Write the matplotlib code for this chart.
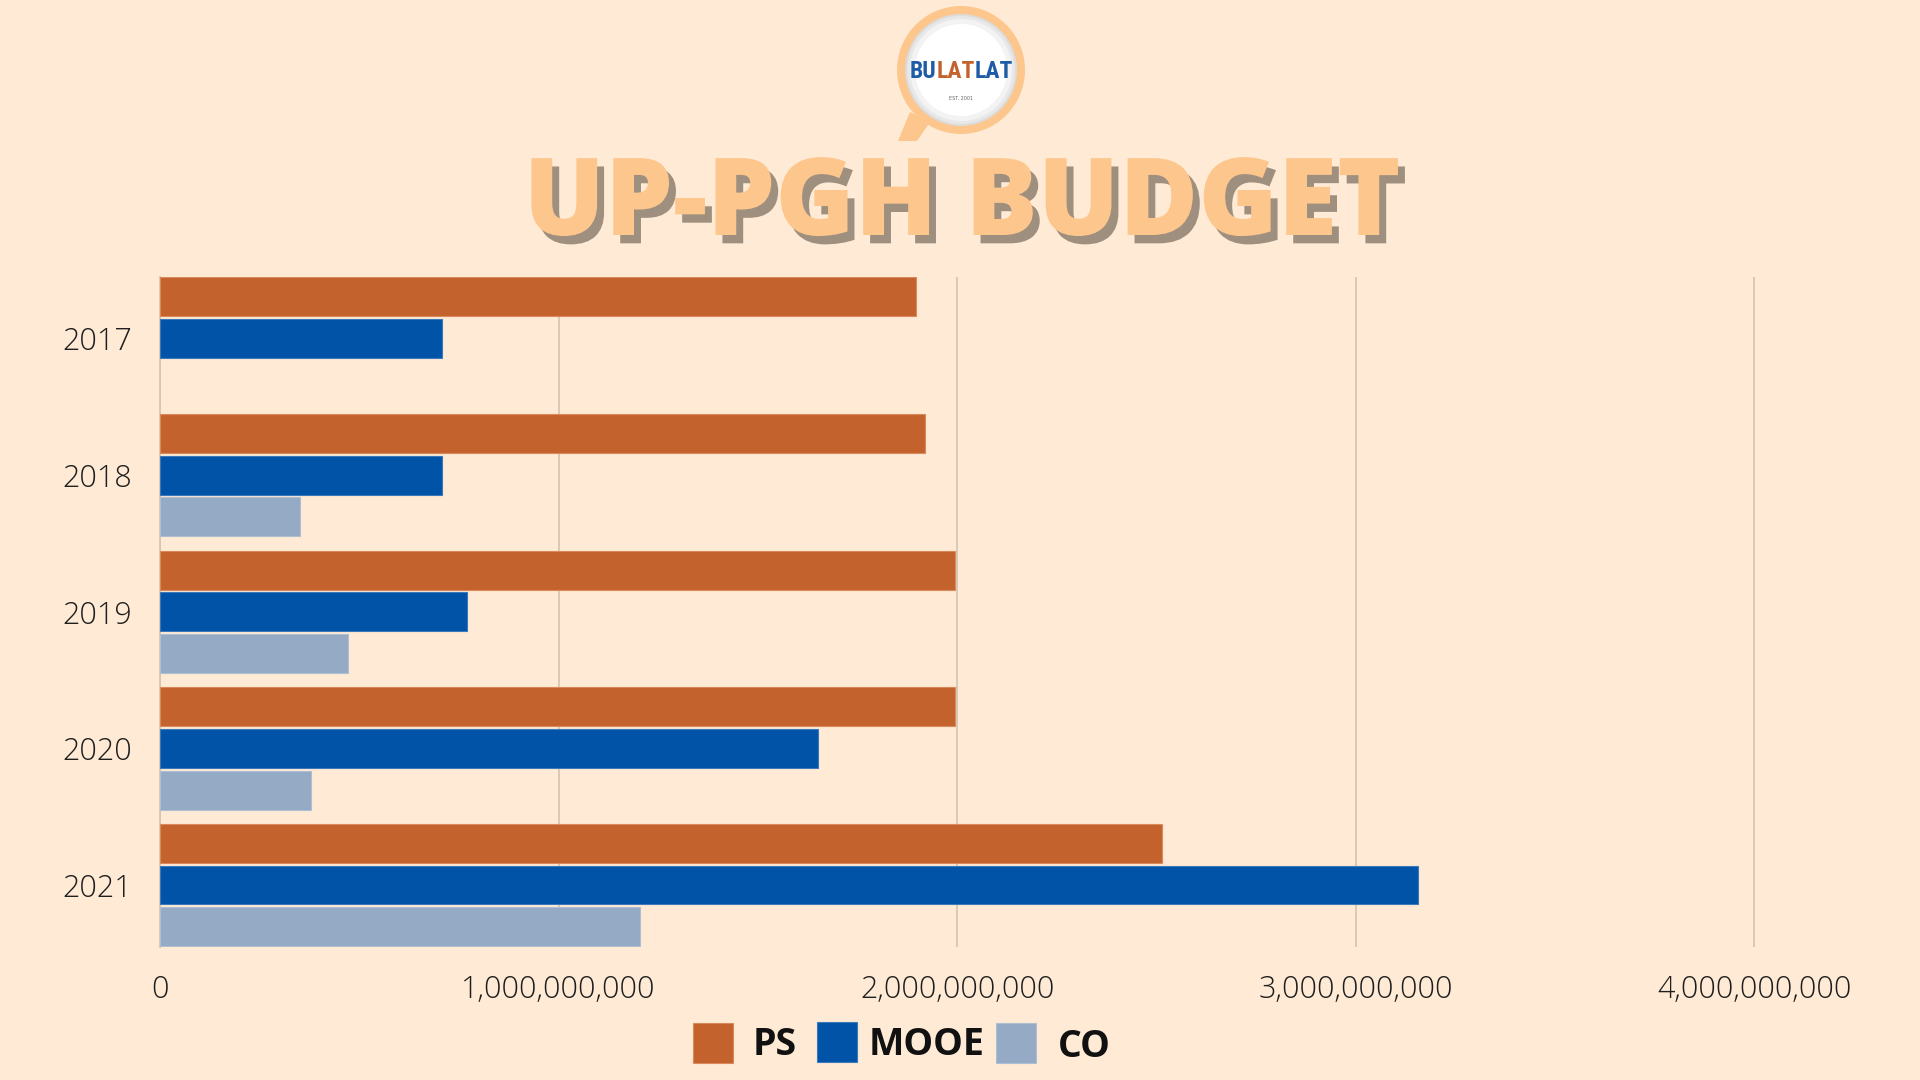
import matplotlib
matplotlib.use("Agg")
import matplotlib.pyplot as plt
import matplotlib.patheffects as pe
import numpy as np
from matplotlib.patches import Circle, Polygon, Rectangle
from matplotlib import font_manager

# ---------------- data ----------------
years = ["2017", "2018", "2019", "2020", "2021"]
series_names = ["PS", "MOOE", "CO"]
ps_values = [1.896e9, 1.920e9, 1.994e9, 1.994e9, 2.514e9]
mooe_values = [0.708e9, 0.708e9, 0.771e9, 1.651e9, 3.157e9]
co_values = [0.0, 0.350e9, 0.471e9, 0.378e9, 1.204e9]
x_ticks = [0, 1e9, 2e9, 3e9, 4e9]
x_tick_labels = ["0", "1,000,000,000", "2,000,000,000", "3,000,000,000", "4,000,000,000"]
title = "UP-PGH BUDGET"

# ---------------- style ----------------
BG = "#FFEBD5"
COLORS = ["#C4622D", "#0053A6", "#94AAC5"]
EDGES = ["#D9895C", "#3C78BC", "#AEBFD3"]
GRID = "#D6C6B5"
TITLE_C = "#FDC68C"
SHADOW_C = "#9E8F7E"

available = {f.name for f in font_manager.fontManager.ttflist}
narrow = None
for cand in ["Liberation Sans Narrow", "DejaVu Sans Condensed", "Roboto Condensed", "Open Sans Condensed"]:
    if cand in available:
        narrow = cand
        break

fig = plt.figure(figsize=(19.2, 10.8), dpi=100, facecolor=BG)

# ---------------- chart ----------------
ax = fig.add_axes([160 / 1920, 1 - 946.5 / 1080, (1834 - 160) / 1920, (946.5 - 277) / 1080])
ax.set_facecolor(BG)
y = np.arange(len(years))
pitch = 0.305
h = 0.285
for i, vals in enumerate([ps_values, mooe_values, co_values]):
    lws = [0.8 if v > 0 else 0 for v in vals]
    ax.barh(y + (i - 1) * pitch, vals, height=h, color=COLORS[i],
            edgecolor=EDGES[i], linewidth=lws, zorder=3)

ax.set_xlim(0, 4.2e9)
ax.set_ylim(4.45, -0.45)
ax.set_xticks(x_ticks)
ax.set_xticklabels(x_tick_labels)
ax.set_yticks(y)
ax.set_yticklabels(years)
ax.tick_params(axis="both", length=0, labelsize=22, labelcolor="#1E1E1E")
ax.tick_params(axis="x", pad=20)
ax.tick_params(axis="y", pad=20)
for lab in ax.get_xticklabels() + ax.get_yticklabels():
    lab.set_fontfamily("Open Sans")
    lab.set_fontweight("light")
ax.grid(axis="x", color=GRID, linewidth=1.3, zorder=0)
ax.grid(axis="y", visible=False)
for s in ["top", "right", "bottom"]:
    ax.spines[s].set_visible(False)
ax.spines["left"].set_color(GRID)
ax.spines["left"].set_linewidth(1.3)

# ---------------- overlay (logo, title, legend) ----------------
ov = fig.add_axes([0, 0, 1, 1], zorder=5)
ov.set_xlim(0, 1920)
ov.set_ylim(1080, 0)
ov.axis("off")
ov.patch.set_visible(False)

# magnifier logo
ov.add_patch(Polygon([(910, 112), (930, 122), (917, 141), (898, 141)], closed=True,
                     facecolor=TITLE_C, edgecolor="none"))
ov.add_patch(Circle((961, 70), 64, facecolor=TITLE_C, edgecolor="none"))
for r, c in [(56, "#DCDCDC"), (54, "#E8E8E8"), (51, "#F3F3F3"), (46, "#FFFFFF")]:
    ov.add_patch(Circle((961, 70), r, facecolor=c, edgecolor="none"))
logo_font = narrow if narrow else "DejaVu Sans"
logo_kw = dict(fontsize=17 if narrow else 13, fontweight="bold", family=logo_font,
               va="center", ha="left", stretch="condensed")
t1 = ov.text(910, 72, "BU", color="#1F5CA6", **logo_kw)
fig.canvas.draw()
r = fig.canvas.get_renderer()
bb = t1.get_window_extent(r)
x2 = 910 + bb.width
t2 = ov.text(x2, 72, "LAT", color="#C4622D", **logo_kw)
bb2 = t2.get_window_extent(r)
ov.text(x2 + bb2.width, 72, "LAT", color="#1F5CA6", **logo_kw)
ov.text(961, 99, "EST. 2001", fontsize=3.5, color="#666666", ha="center", va="center")

# title with drop shadow (single text, shadow via path effect)
ov.text(962, 235, title, color=TITLE_C, fontsize=77.5, fontweight="heavy", family="Open Sans",
        ha="center", va="baseline",
        path_effects=[pe.withSimplePatchShadow(offset=(5, -6), shadow_rgbFace=SHADOW_C, alpha=1.0)])

# legend
sq = [(693, 1023), (817, 1022), (996, 1023)]
txt = [(753, 1055), (869, 1055), (1058, 1057)]
for i, name in enumerate(series_names):
    ov.add_patch(Rectangle(sq[i], 40, 40, facecolor=COLORS[i], edgecolor=EDGES[i], linewidth=0.8))
    ov.text(txt[i][0], txt[i][1], name, fontsize=27, fontweight="bold", family="Open Sans",
            color="#111111", ha="left", va="baseline")

fig.savefig("out.png", dpi=100, facecolor=BG)
